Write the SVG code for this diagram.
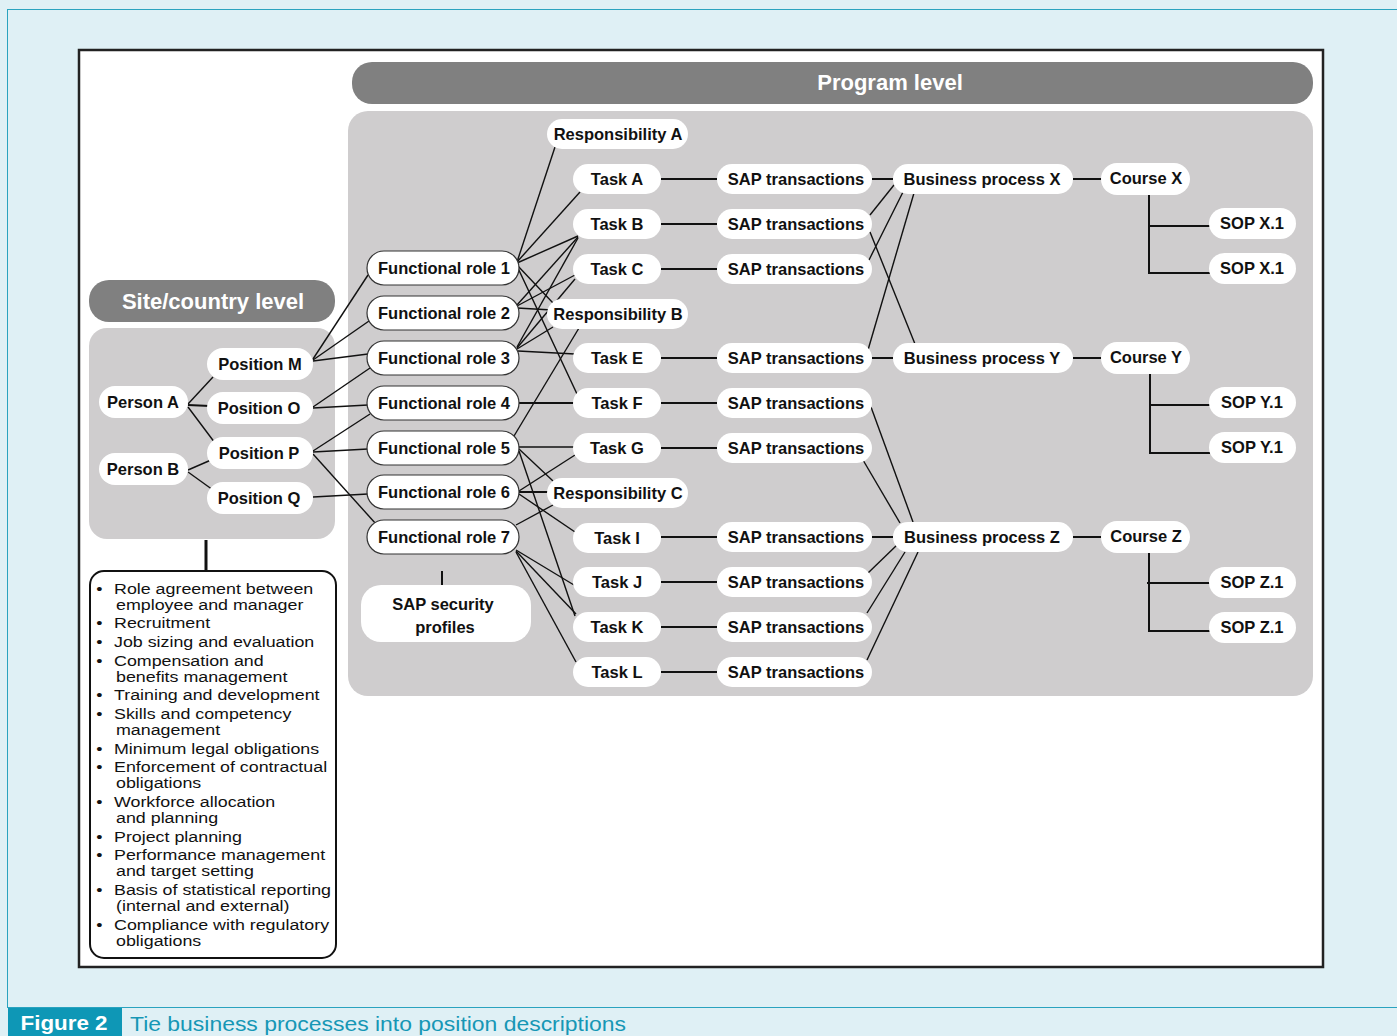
<svg xmlns="http://www.w3.org/2000/svg" width="1397" height="1036" viewBox="0 0 1397 1036">
<style>
.n{fill:#fff}
.fr{fill:#fff;stroke:#333;stroke-width:1.2}
.t{font-family:"Liberation Sans",Arial,sans-serif;font-weight:bold;font-size:16.5px;fill:#111;text-anchor:middle}
.hd{font-family:"Liberation Sans",Arial,sans-serif;font-weight:bold;font-size:22px;fill:#fff;text-anchor:middle}
.li{font-family:"Liberation Sans",Arial,sans-serif;font-size:15px;fill:#111}
.c line,.c polyline{stroke:#111;stroke-width:1.4;fill:none}
.c .h{stroke-width:2}
</style>
<rect x="0" y="0" width="1397" height="1036" fill="#dff0f5"/>
<rect x="7.5" y="9.5" width="1395" height="998" fill="#dff0f5" stroke="#2aa3bf" stroke-width="1"/>
<g id="caption">
<rect x="8" y="1008" width="114" height="28" fill="#0e97b6"/>
<text x="64" y="1030" font-family="Liberation Sans,Arial,sans-serif" font-weight="bold" font-size="21" fill="#fff" text-anchor="middle" textLength="87" lengthAdjust="spacingAndGlyphs">Figure 2</text>
<text x="130" y="1031" font-family="Liberation Sans,Arial,sans-serif" font-size="21" fill="#1697b5" textLength="496" lengthAdjust="spacingAndGlyphs">Tie business processes into position descriptions</text>
</g>
<rect x="79" y="50" width="1244" height="917" fill="#fff" stroke="#222" stroke-width="2.5"/>
<g id="program-level">
<rect x="352" y="62" width="961" height="42" rx="20" fill="#808080"/>
<text class="hd" x="890" y="90">Program level</text>
<rect x="348" y="111" width="965" height="585" rx="20" fill="#cfcdce"/>
</g>
<g id="site-level">
<rect x="89" y="280" width="246" height="42" rx="20" fill="#808080"/>
<text class="hd" x="213" y="309">Site/country level</text>
<rect x="89" y="328" width="246" height="211" rx="18" fill="#cfcdce"/>
</g>
<g id="connectors" class="c">
<line x1="206" y1="540" x2="206" y2="571" style="stroke-width:3"/>
<line x1="442" y1="571" x2="442" y2="587" style="stroke-width:2"/>
<line x1="188" y1="404" x2="213" y2="377"/>
<line class="h" x1="188" y1="405" x2="210" y2="406"/>
<line x1="188" y1="407" x2="215" y2="443"/>
<line x1="188" y1="470" x2="211" y2="460"/>
<line x1="188" y1="472" x2="213" y2="490"/>
<line x1="313" y1="359" x2="368" y2="275"/>
<line x1="313" y1="360" x2="369" y2="321"/>
<line x1="313" y1="361" x2="368" y2="354"/>
<line x1="313" y1="407" x2="370" y2="368"/>
<line x1="313" y1="408" x2="368" y2="405"/>
<line x1="313" y1="451" x2="370" y2="414"/>
<line x1="313" y1="452" x2="368" y2="449"/>
<line x1="313" y1="454" x2="376" y2="524"/>
<line x1="313" y1="497" x2="368" y2="494"/>
<line x1="517" y1="262" x2="555" y2="147"/>
<line x1="517" y1="262" x2="580" y2="192"/>
<line x1="517" y1="263" x2="578" y2="236"/>
<line x1="517" y1="265" x2="553" y2="303"/>
<line x1="517" y1="266" x2="577" y2="394"/>
<line x1="517" y1="305" x2="578" y2="237"/>
<line x1="517" y1="306" x2="575" y2="275"/>
<line x1="517" y1="308" x2="552" y2="310"/>
<line x1="517" y1="347" x2="578" y2="238"/>
<line x1="517" y1="348" x2="575" y2="279"/>
<line x1="517" y1="349" x2="553" y2="327"/>
<line x1="518" y1="351" x2="575" y2="354"/>
<line class="h" x1="519" y1="403" x2="575" y2="403"/>
<line x1="514" y1="436" x2="579" y2="328"/>
<line x1="519" y1="447" x2="575" y2="447"/>
<line x1="519" y1="449" x2="553" y2="481"/>
<line x1="519" y1="451" x2="575" y2="616"/>
<line x1="519" y1="491" x2="575" y2="455"/>
<line class="h" x1="519" y1="492" x2="549" y2="492"/>
<line x1="519" y1="494" x2="575" y2="532"/>
<line x1="516" y1="525" x2="553" y2="505"/>
<line x1="516" y1="550" x2="574" y2="585"/>
<line x1="516" y1="551" x2="576" y2="614"/>
<line x1="516" y1="552" x2="576" y2="662"/>
<line class="h" x1="661" y1="179" x2="717" y2="179"/>
<line class="h" x1="661" y1="224" x2="717" y2="224"/>
<line class="h" x1="661" y1="269" x2="717" y2="269"/>
<line class="h" x1="661" y1="358" x2="717" y2="358"/>
<line class="h" x1="661" y1="403" x2="717" y2="403"/>
<line class="h" x1="661" y1="448" x2="717" y2="448"/>
<line class="h" x1="661" y1="537" x2="717" y2="537"/>
<line class="h" x1="661" y1="582" x2="717" y2="582"/>
<line class="h" x1="661" y1="627" x2="717" y2="627"/>
<line class="h" x1="661" y1="672" x2="717" y2="672"/>
<line class="h" x1="872" y1="179" x2="893" y2="179"/>
<line x1="870" y1="215" x2="894" y2="185"/>
<line x1="869" y1="260" x2="903" y2="192"/>
<line x1="868" y1="350" x2="914" y2="193"/>
<line x1="870" y1="232" x2="915" y2="344"/>
<line class="h" x1="872" y1="358" x2="893" y2="358"/>
<line x1="871" y1="407" x2="913" y2="522"/>
<line x1="863" y1="460" x2="900" y2="523"/>
<line class="h" x1="872" y1="537" x2="893" y2="537"/>
<line x1="868" y1="573" x2="897" y2="545"/>
<line x1="867" y1="613" x2="905" y2="552"/>
<line x1="867" y1="660" x2="918" y2="552"/>
<line class="h" x1="1073" y1="179" x2="1102" y2="179"/>
<line class="h" x1="1073" y1="358" x2="1102" y2="358"/>
<line class="h" x1="1073" y1="537" x2="1102" y2="537"/>
<polyline class="h" points="1149,195 1149,273 1210,273"/>
<line class="h" x1="1149" y1="226" x2="1210" y2="226"/>
<polyline class="h" points="1150,374 1150,453 1210,453"/>
<line class="h" x1="1150" y1="405" x2="1210" y2="405"/>
<polyline class="h" points="1149,553 1149,631 1210,631"/>
<line class="h" x1="1147" y1="583" x2="1210" y2="583"/>
</g>
<g id="node-person-a"><rect class="n" x="99" y="386" width="89" height="32" rx="16"/><text class="t" x="143" y="408">Person A</text></g>
<g id="node-person-b"><rect class="n" x="99" y="453" width="89" height="32" rx="16"/><text class="t" x="143" y="475">Person B</text></g>
<g id="node-position-m"><rect class="n" x="207" y="348" width="106" height="32" rx="16"/><text class="t" x="260" y="370">Position M</text></g>
<g id="node-position-o"><rect class="n" x="207" y="392" width="106" height="32" rx="16"/><text class="t" x="259" y="414">Position O</text></g>
<g id="node-position-p"><rect class="n" x="207" y="437" width="106" height="32" rx="16"/><text class="t" x="259" y="459">Position P</text></g>
<g id="node-position-q"><rect class="n" x="207" y="482" width="106" height="32" rx="16"/><text class="t" x="259" y="504">Position Q</text></g>
<g id="node-fr1"><rect class="fr" x="367" y="251" width="152" height="34" rx="17"/><text class="t" x="444" y="274">Functional role 1</text></g>
<g id="node-fr2"><rect class="fr" x="367" y="296" width="152" height="34" rx="17"/><text class="t" x="444" y="319">Functional role 2</text></g>
<g id="node-fr3"><rect class="fr" x="367" y="341" width="152" height="34" rx="17"/><text class="t" x="444" y="364">Functional role 3</text></g>
<g id="node-fr4"><rect class="fr" x="367" y="386" width="152" height="34" rx="17"/><text class="t" x="444" y="409">Functional role 4</text></g>
<g id="node-fr5"><rect class="fr" x="367" y="431" width="152" height="34" rx="17"/><text class="t" x="444" y="454">Functional role 5</text></g>
<g id="node-fr6"><rect class="fr" x="367" y="475" width="152" height="34" rx="17"/><text class="t" x="444" y="498">Functional role 6</text></g>
<g id="node-fr7"><rect class="fr" x="367" y="520" width="152" height="34" rx="17"/><text class="t" x="444" y="543">Functional role 7</text></g>
<g id="node-sap-security"><rect class="n" x="361" y="585" width="170" height="57" rx="20"/><text class="t" x="443" y="610">SAP security</text><text class="t" x="445" y="633">profiles</text></g>
<g id="node-resp-a"><rect class="n" x="547" y="119" width="141" height="30" rx="15"/><text class="t" x="618" y="140">Responsibility A</text></g>
<g id="node-resp-b"><rect class="n" x="547" y="299" width="141" height="30" rx="15"/><text class="t" x="618" y="320">Responsibility B</text></g>
<g id="node-resp-c"><rect class="n" x="547" y="478" width="141" height="30" rx="15"/><text class="t" x="618" y="499">Responsibility C</text></g>
<g id="node-task-a"><rect class="n" x="573" y="164" width="88" height="30" rx="15"/><text class="t" x="617" y="185">Task A</text></g>
<g id="node-task-b"><rect class="n" x="573" y="209" width="88" height="30" rx="15"/><text class="t" x="617" y="230">Task B</text></g>
<g id="node-task-c"><rect class="n" x="573" y="254" width="88" height="30" rx="15"/><text class="t" x="617" y="275">Task C</text></g>
<g id="node-task-e"><rect class="n" x="573" y="343" width="88" height="30" rx="15"/><text class="t" x="617" y="364">Task E</text></g>
<g id="node-task-f"><rect class="n" x="573" y="388" width="88" height="30" rx="15"/><text class="t" x="617" y="409">Task F</text></g>
<g id="node-task-g"><rect class="n" x="573" y="433" width="88" height="30" rx="15"/><text class="t" x="617" y="454">Task G</text></g>
<g id="node-task-i"><rect class="n" x="573" y="523" width="88" height="30" rx="15"/><text class="t" x="617" y="544">Task I</text></g>
<g id="node-task-j"><rect class="n" x="573" y="567" width="88" height="30" rx="15"/><text class="t" x="617" y="588">Task J</text></g>
<g id="node-task-k"><rect class="n" x="573" y="612" width="88" height="30" rx="15"/><text class="t" x="617" y="633">Task K</text></g>
<g id="node-task-l"><rect class="n" x="573" y="657" width="88" height="30" rx="15"/><text class="t" x="617" y="678">Task L</text></g>
<g id="node-sap-1"><rect class="n" x="717" y="164" width="155" height="30" rx="15"/><text class="t" x="796" y="185">SAP transactions</text></g>
<g id="node-sap-2"><rect class="n" x="717" y="209" width="155" height="30" rx="15"/><text class="t" x="796" y="230">SAP transactions</text></g>
<g id="node-sap-3"><rect class="n" x="717" y="254" width="155" height="30" rx="15"/><text class="t" x="796" y="275">SAP transactions</text></g>
<g id="node-sap-4"><rect class="n" x="717" y="343" width="155" height="30" rx="15"/><text class="t" x="796" y="364">SAP transactions</text></g>
<g id="node-sap-5"><rect class="n" x="717" y="388" width="155" height="30" rx="15"/><text class="t" x="796" y="409">SAP transactions</text></g>
<g id="node-sap-6"><rect class="n" x="717" y="433" width="155" height="30" rx="15"/><text class="t" x="796" y="454">SAP transactions</text></g>
<g id="node-sap-7"><rect class="n" x="717" y="522" width="155" height="30" rx="15"/><text class="t" x="796" y="543">SAP transactions</text></g>
<g id="node-sap-8"><rect class="n" x="717" y="567" width="155" height="30" rx="15"/><text class="t" x="796" y="588">SAP transactions</text></g>
<g id="node-sap-9"><rect class="n" x="717" y="612" width="155" height="30" rx="15"/><text class="t" x="796" y="633">SAP transactions</text></g>
<g id="node-sap-10"><rect class="n" x="717" y="657" width="155" height="30" rx="15"/><text class="t" x="796" y="678">SAP transactions</text></g>
<g id="node-bp-x"><rect class="n" x="893" y="164" width="180" height="30" rx="15"/><text class="t" x="982" y="185">Business process X</text></g>
<g id="node-bp-y"><rect class="n" x="893" y="343" width="180" height="30" rx="15"/><text class="t" x="982" y="364">Business process Y</text></g>
<g id="node-bp-z"><rect class="n" x="893" y="522" width="180" height="30" rx="15"/><text class="t" x="982" y="543">Business process Z</text></g>
<g id="node-course-x"><rect class="n" x="1101" y="163" width="89" height="32" rx="16"/><text class="t" x="1146" y="184">Course X</text></g>
<g id="node-course-y"><rect class="n" x="1101" y="342" width="89" height="32" rx="16"/><text class="t" x="1146" y="363">Course Y</text></g>
<g id="node-course-z"><rect class="n" x="1101" y="521" width="89" height="32" rx="16"/><text class="t" x="1146" y="542">Course Z</text></g>
<g id="node-sop-x1a"><rect class="n" x="1209" y="208" width="87" height="31" rx="15.5"/><text class="t" x="1252" y="229">SOP X.1</text></g>
<g id="node-sop-x1b"><rect class="n" x="1209" y="253" width="87" height="31" rx="15.5"/><text class="t" x="1252" y="274">SOP X.1</text></g>
<g id="node-sop-y1a"><rect class="n" x="1209" y="387" width="87" height="31" rx="15.5"/><text class="t" x="1252" y="408">SOP Y.1</text></g>
<g id="node-sop-y1b"><rect class="n" x="1209" y="432" width="87" height="31" rx="15.5"/><text class="t" x="1252" y="453">SOP Y.1</text></g>
<g id="node-sop-z1a"><rect class="n" x="1209" y="567" width="87" height="31" rx="15.5"/><text class="t" x="1252" y="588">SOP Z.1</text></g>
<g id="node-sop-z1b"><rect class="n" x="1209" y="612" width="87" height="31" rx="15.5"/><text class="t" x="1252" y="633">SOP Z.1</text></g>
<g id="node-uses-list">
<rect x="90" y="571" width="246" height="387" rx="14" fill="#fff" stroke="#111" stroke-width="2"/>
<g class="li" transform="translate(114,0) scale(1.19,1)">
<text x="-15" y="594">•</text><text x="0" y="594">Role agreement between</text>
<text x="1.7" y="610">employee and manager</text>
<text x="-15" y="628">•</text><text x="0" y="628">Recruitment</text>
<text x="-15" y="647">•</text><text x="0" y="647">Job sizing and evaluation</text>
<text x="-15" y="666">•</text><text x="0" y="666">Compensation and</text>
<text x="1.7" y="682">benefits management</text>
<text x="-15" y="700">•</text><text x="0" y="700">Training and development</text>
<text x="-15" y="719">•</text><text x="0" y="719">Skills and competency</text>
<text x="1.7" y="735">management</text>
<text x="-15" y="754">•</text><text x="0" y="754">Minimum legal obligations</text>
<text x="-15" y="772">•</text><text x="0" y="772">Enforcement of contractual</text>
<text x="1.7" y="788">obligations</text>
<text x="-15" y="807">•</text><text x="0" y="807">Workforce allocation</text>
<text x="1.7" y="823">and planning</text>
<text x="-15" y="842">•</text><text x="0" y="842">Project planning</text>
<text x="-15" y="860">•</text><text x="0" y="860">Performance management</text>
<text x="1.7" y="876">and target setting</text>
<text x="-15" y="895">•</text><text x="0" y="895">Basis of statistical reporting</text>
<text x="1.7" y="911">(internal and external)</text>
<text x="-15" y="930">•</text><text x="0" y="930">Compliance with regulatory</text>
<text x="1.7" y="946">obligations</text>
</g>
</g>
</svg>
